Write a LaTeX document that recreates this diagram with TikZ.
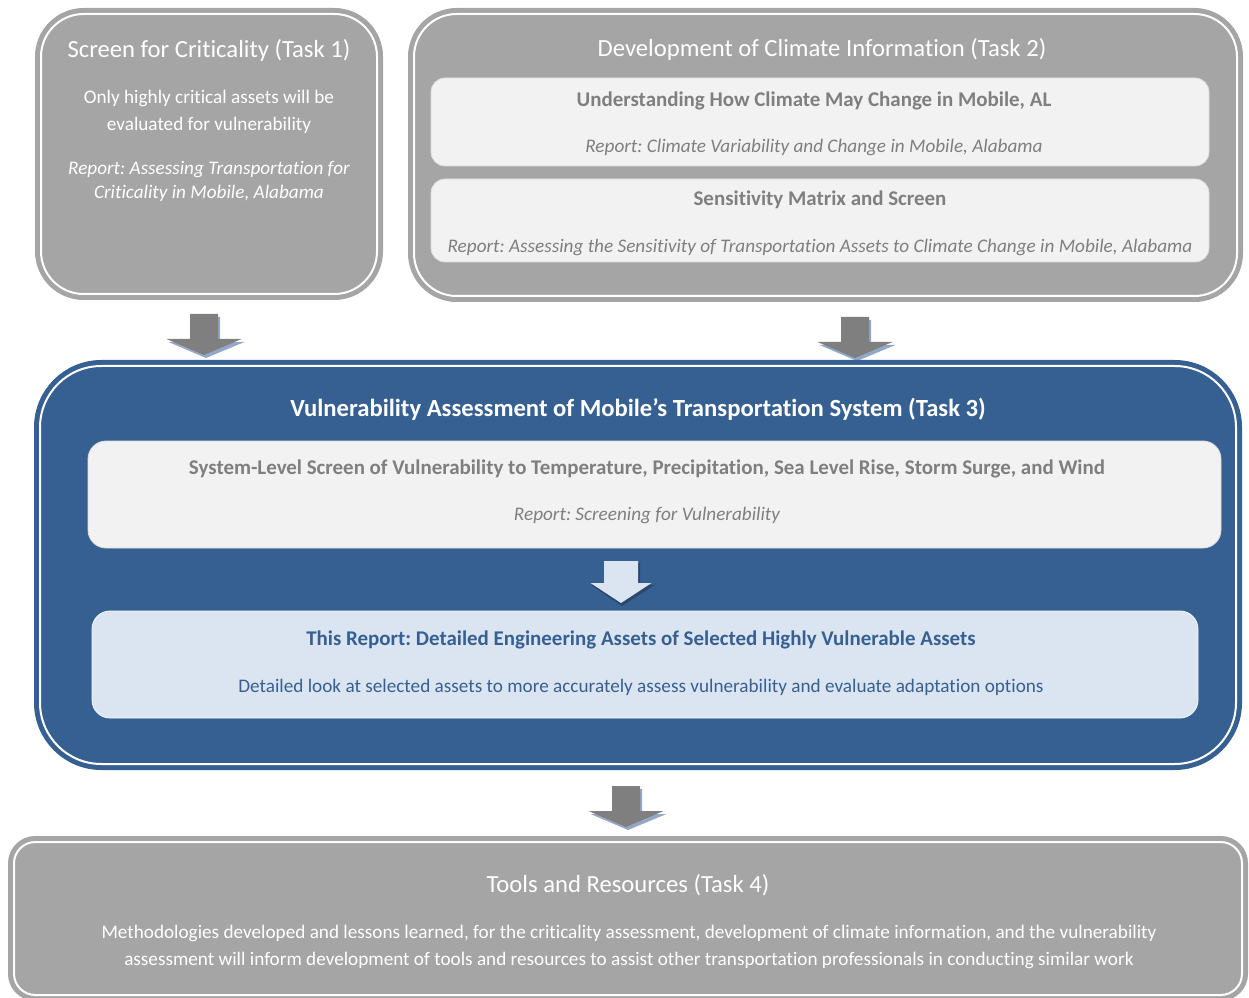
\documentclass[tikz,border=0pt]{standalone}
\usepackage{fontspec}
\setmainfont{Carlito}[Ligatures=NoCommon]
\frenchspacing
\definecolor{boxgray}{HTML}{A5A5A5}
\definecolor{subfill}{HTML}{F2F2F2}
\definecolor{subline}{HTML}{DCDCDC}
\definecolor{txtgray}{HTML}{7F7F7F}
\definecolor{taskblue}{HTML}{366092}
\definecolor{paleblue}{HTML}{DBE5F1}
\definecolor{arrgray}{HTML}{7F7F7F}
\definecolor{arrshade}{HTML}{93A7C7}
\definecolor{darkshade}{HTML}{2A476C}
\tikzset{
  taskbox/.style={fill=#1, draw=#1, line width=3.75pt, double=white, double distance=1.5pt},
  subbox/.style={fill=#1, draw=subline, line width=0.6pt},
  txt/.style={inner sep=0pt, align=center, yshift=-1.5pt},
  headtext/.style={txt, text=white, font=\fontsize{18.5}{22}\selectfont},
  bodytext/.style={txt, font=\fontsize{14.4}{20.25}\selectfont},
  reptext/.style={txt, font=\fontsize{14.4}{18}\selectfont\itshape},
  subhead/.style={txt, text=txtgray, font=\fontsize{15.7}{18}\selectfont\bfseries}
}
\begin{document}
\begin{tikzpicture}[x=0.75pt, y=-0.75pt]
\useasboundingbox (0,0) rectangle (1249,998);
\clip (0,0) rectangle (1249,998);

% Task 1
\draw[taskbox=boxgray, rounded corners=32pt] (41,14) rectangle (377,294);
\node[headtext] (t1head) at (209,48) {Screen for Criticality (Task 1)};
\node[bodytext, text=white] (t1body) at (209,109.5) {Only highly critical assets will be\\evaluated for vulnerability};
\node[reptext, text=white] (t1rep) at (209,179) {Report: Assessing Transportation for\\Criticality in Mobile, Alabama};

% Task 2
\draw[taskbox=boxgray, rounded corners=32pt] (414,14) rectangle (1237,296);
\node[headtext] (t2head) at (822,47) {Development of Climate Information (Task 2)};
\draw[subbox=subfill, rounded corners=10.5pt] (431,78) rectangle (1209,166);
\node[subhead] (t2ahead) at (814,99) {Understanding How Climate May Change in Mobile, AL};
\node[reptext, text=txtgray] (t2arep) at (814,145) {Report: Climate Variability and Change in Mobile, Alabama};
\draw[subbox=subfill, rounded corners=10.5pt] (431,179) rectangle (1209,262);
\node[subhead] (t2bhead) at (820,198) {Sensitivity Matrix and Screen};
\node[reptext, text=txtgray] (t2brep) at (820,245) {Report: Assessing the Sensitivity of Transportation Assets to Climate Change in Mobile, Alabama};

% arrows between the tasks
\foreach \ax/\ay in {204/314, 855/317, 626/786} {
  \begin{scope}[shift={(\ax,\ay)}]
    \fill[arrshade] (-11.5,3) -- (16,3) -- (16,28) -- (40.5,28) -- (2,44) -- (-35.5,28) -- (-11.5,28) -- cycle;
    \fill[arrgray] (-14,0) -- (14,0) -- (14,25) -- (37.5,25) -- (0,41) -- (-37.5,25) -- (-14,25) -- cycle;
  \end{scope}
}

% Task 3
\draw[taskbox=taskblue, rounded corners=46pt] (40,366) rectangle (1236,764);
\node[headtext, font=\fontsize{18.5}{22}\selectfont\bfseries] (t3head) at (638,407) {Vulnerability Assessment of Mobile’s Transportation System (Task 3)};
\draw[subbox=subfill, rounded corners=13.5pt] (88,441) rectangle (1221,548);
\node[subhead] (t3ahead) at (647,467) {System-Level Screen of Vulnerability to Temperature, Precipitation, Sea Level Rise, Storm Surge, and Wind};
\node[reptext, text=txtgray] (t3arep) at (647,513) {Report: Screening for Vulnerability};
\begin{scope}[shift={(621,561)}]
  \fill[darkshade] (-16,2) -- (19,2) -- (19,24) -- (33.5,24) -- (1,45) -- (-30,24) -- (-16,24) -- cycle;
  \fill[paleblue] (-17,0) -- (17,0) -- (17,22) -- (30.5,22) -- (0,42) -- (-30.5,22) -- (-17,22) -- cycle;
\end{scope}
\draw[subbox=paleblue, draw=white!80!paleblue, rounded corners=13.5pt] (92,611) rectangle (1198,718);
\node[subhead, text=taskblue] (t3bhead) at (641,638) {This Report: Detailed Engineering Assets of Selected Highly Vulnerable Assets};
\node[bodytext, text=taskblue] (t3bbody) at (641,685) {Detailed look at selected assets to more accurately assess vulnerability and evaluate adaptation options};

% Task 4
\draw[taskbox=boxgray, rounded corners=16pt] (14,842) rectangle (1242,995);
\node[headtext] (t4head) at (628,883) {Tools and Resources (Task 4)};
\node[bodytext, text=white] (t4body) at (629,944.5) {Methodologies developed and lessons learned, for the criticality assessment, development of climate information, and the vulnerability\\assessment will inform development of tools and resources to assist other transportation professionals in conducting similar work};
\end{tikzpicture}
\end{document}
